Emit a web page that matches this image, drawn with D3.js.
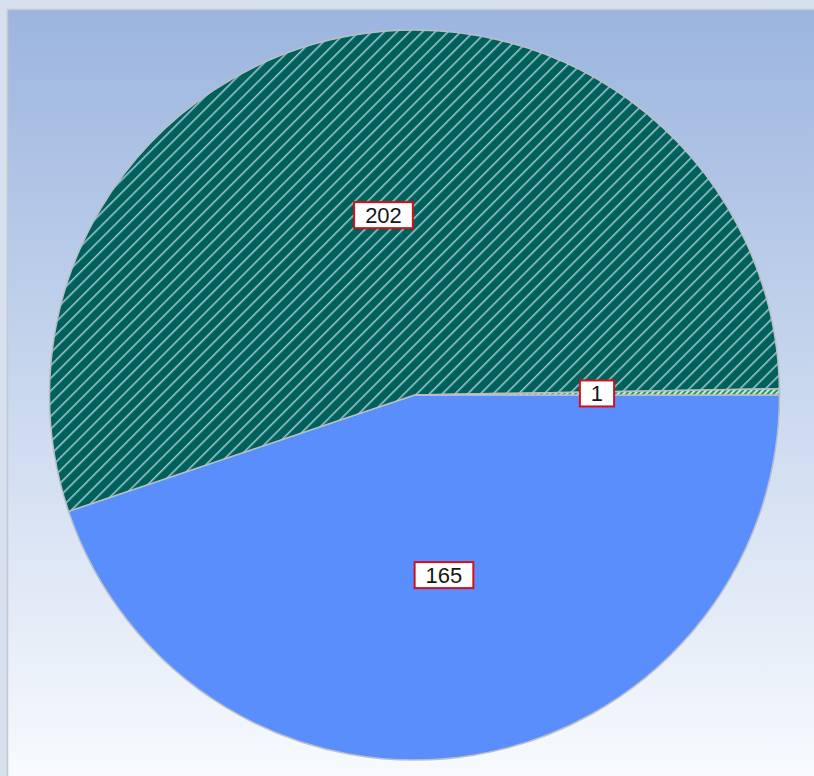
<!DOCTYPE html>
<html>
<head>
<meta charset="utf-8">
<script src="https://cdn.jsdelivr.net/npm/d3@7"></script>
<style>
  html, body { margin: 0; padding: 0; background: #d6e0ef; }
  svg { display: block; }
  .slice-label { font-family: "Liberation Sans", "DejaVu Sans", sans-serif; font-size: 22px; fill: #161616; }
</style>
</head>
<body>
<div id="chart"></div>
<script>
// Pie values, in drawing order (clockwise from 3 o'clock)
const sliceNames = ['A', 'B', 'C'];
const sliceValues = [165, 202, 1];
const sliceFills = ['solid', 'hatchDark', 'hatchLight'];

const width = 814, height = 776;

const svg = d3.select('#chart')
    .append('svg')
    .attr('width', width)
    .attr('height', height);

const defs = svg.append('defs');

// Background gradient of the plot area
const grad = defs.append('linearGradient')
    .attr('id', 'bg')
    .attr('x1', 0).attr('y1', 0).attr('x2', 0).attr('y2', 1);
grad.append('stop').attr('offset', '0%').attr('stop-color', '#9bb5df');
grad.append('stop').attr('offset', '100%').attr('stop-color', '#f9fbfe');

// Diagonal hatch patterns (rotated stripe, no tile seams)
function hatch(id, bg, line, size, w) {
    const p = defs.append('pattern')
        .attr('id', id)
        .attr('patternUnits', 'userSpaceOnUse')
        .attr('width', size)
        .attr('height', size)
        .attr('patternTransform', 'rotate(45)');
    p.append('rect').attr('width', size).attr('height', size).attr('fill', bg);
    p.append('rect')
        .attr('x', 0).attr('y', 0)
        .attr('width', w).attr('height', size)
        .attr('fill', line);
}
hatch('hatchDark', '#00605a', '#9cc4cf', 9, 1.6);
hatch('hatchLight', '#d4e4da', '#1f9a62', 4, 2);

// Frame
svg.append('rect')
    .attr('x', 7.5).attr('y', 9.5)
    .attr('width', width).attr('height', height)
    .attr('fill', 'url(#bg)')
    .attr('stroke', '#c4c8cf')
    .attr('stroke-width', 1.5);

const cx = 414.5, cy = 395, radius = 365;

const pie = d3.pie()
    .sort(null)
    .startAngle(Math.PI / 2)
    .endAngle(Math.PI / 2 + 2 * Math.PI);

const arcs = pie(sliceValues);

const arc = d3.arc().innerRadius(0).outerRadius(radius);
const labelArc = d3.arc().innerRadius(radius * 0.5).outerRadius(radius * 0.5);

const g = svg.append('g').attr('transform', `translate(${cx},${cy})`);

g.selectAll('.slice')
    .data(arcs)
    .enter()
    .append('path')
    .attr('class', 'slice')
    .attr('d', arc)
    .attr('fill', (d, i) => sliceFills[i] === 'solid' ? '#5a8efd' : `url(#${sliceFills[i]})`)
    .attr('stroke', '#b9bfc6')
    .attr('stroke-width', 1.5);

// Labels: white boxes with red border
const labels = g.selectAll('.label')
    .data(arcs)
    .enter()
    .append('g')
    .attr('class', 'label')
    .attr('transform', d => {
        const [x, y] = labelArc.centroid(d);
        return `translate(${x},${y})`;
    });

labels.append('text')
    .attr('class', 'slice-label')
    .attr('text-anchor', 'middle')
    .attr('dy', '0.36em')
    .text(d => d.data);

labels.each(function() {
    const t = d3.select(this).select('text');
    const bb = t.node().getBBox();
    d3.select(this).insert('rect', 'text')
        .attr('x', bb.x - 11)
        .attr('y', -13)
        .attr('width', bb.width + 22)
        .attr('height', 26)
        .attr('fill', '#fff')
        .attr('stroke', '#d0101a')
        .attr('stroke-width', 2);
});
</script>
</body>
</html>
